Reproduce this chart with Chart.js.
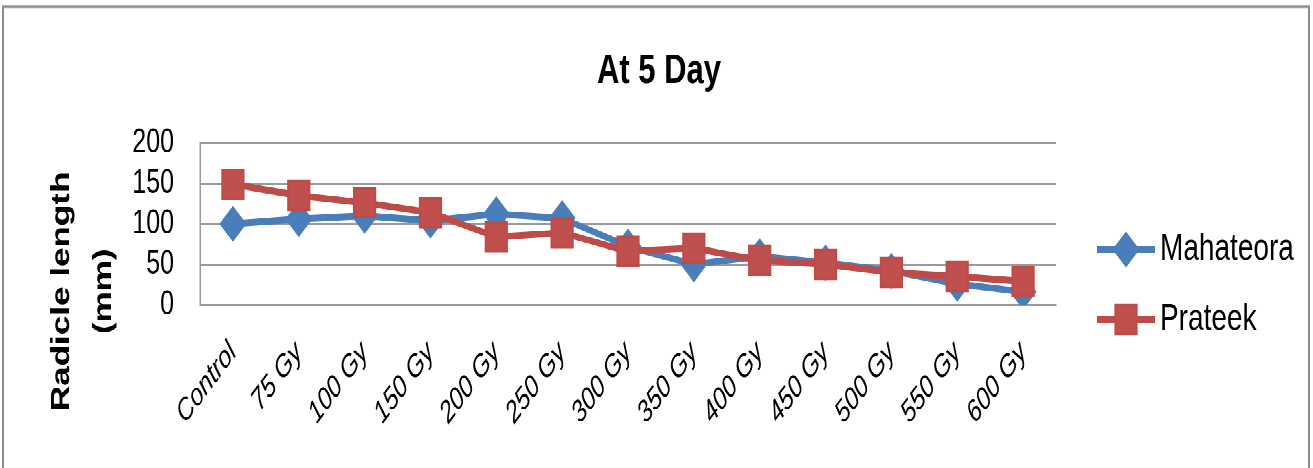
<!DOCTYPE html>
<html>
<head>
<meta charset="utf-8">
<script src="https://cdn.jsdelivr.net/npm/chart.js@4"></script>
<style>
  html, body { margin: 0; padding: 0; background: #fff; overflow: hidden; }
  #stage {
    position: absolute; left: 0; top: 0;
    width: 1313px; height: 347px;
    transform: scaleY(1.3487); transform-origin: 0 0;
  }
  #frame {
    position: absolute; left: 2px; top: 4px;
    width: 1304px; height: 400px;
    border: 2px solid #8c8c8c;
  }
  #myChart { position: absolute; left: 0; top: 0; }
</style>
</head>
<body>
<div id="stage">
  <div id="frame"></div>
  <canvas id="myChart" width="1313" height="347" style="width:1313px;height:347px"></canvas>
</div>
<script>
const categories = ['Control', '75 Gy', '100 Gy', '150 Gy', '200 Gy', '250 Gy', '300 Gy',
  '350 Gy', '400 Gy', '450 Gy', '500 Gy', '550 Gy', '600 Gy'];
const mahateora = [100, 106, 110, 104, 112, 107, 72, 50, 60, 52, 42, 26, 16];
const prateek = [149, 135, 126, 114, 84, 89, 66, 70, 55, 50, 40, 35, 29];
const yTicks = [0, 50, 100, 150, 200];

const chartTitle = 'At 5 Day';
const yTitle = ['Radicle length', '(mm)'];

const NARROW = "'Liberation Sans Narrow', 'Liberation Sans', sans-serif";
const BLUE = '#4a7ebb';
const RED = '#be4b48';


// title, y axis title and legend drawn at the spots they sit in the picture
const extras = {
    id: 'extras',
    afterDraw(chart) {
        const ctx = chart.ctx;
        ctx.save();
        ctx.fillStyle = '#000';
        ctx.textAlign = 'center';
        ctx.textBaseline = 'middle';
        ctx.font = 'bold 31px ' + NARROW;
        ctx.fillText(chartTitle, 659, 53);

        ctx.save();
        ctx.translate(62, 216);
        ctx.rotate(-Math.PI / 2);
        ctx.font = 'bold 26px "Liberation Sans", Arial, sans-serif';
        ctx.fillText(yTitle[0], 0, 0);
        ctx.fillText(yTitle[1], 0, 42);
        ctx.restore();

        const rows = [185, 237];
        chart.data.datasets.forEach(function (ds, i) {
            const y = rows[i];
            ctx.strokeStyle = ds.borderColor;
            ctx.lineWidth = 5;
            ctx.beginPath();
            ctx.moveTo(1097, y);
            ctx.lineTo(1155, y);
            ctx.stroke();
            ctx.fillStyle = ds.pointBackgroundColor;
            ctx.strokeStyle = ds.pointBorderColor;
            ctx.lineWidth = 2;
            Chart.helpers.drawPoint(ctx, {
                pointStyle: ds.pointStyle,
                radius: ds.pointRadius,
                borderWidth: 2,
                rotation: 0
            }, 1126, y);
            ctx.fillStyle = '#000';
            ctx.textAlign = 'left';
            ctx.font = '28px ' + NARROW;
            ctx.fillText(ds.label, 1160, y);
        });
        ctx.restore();
    }
};


function renderChart() {
    const ctx = document.getElementById('myChart');

    new Chart(ctx, {
        type: 'line',
        data: {
            labels: categories,
            datasets: [{
                label: 'Mahateora',
                data: mahateora,
                order: 2,
                borderColor: BLUE,
                backgroundColor: BLUE,
                borderWidth: 5,
                pointStyle: 'rectRot',
                pointRadius: 12,
                pointBorderWidth: 2,
                pointBorderColor: BLUE,
                pointBackgroundColor: BLUE
            }, {
                label: 'Prateek',
                data: prateek,
                order: 1,
                borderColor: RED,
                backgroundColor: '#c0504d',
                borderWidth: 5,
                pointStyle: 'rect',
                pointRadius: 15,
                pointBorderWidth: 2,
                pointBorderColor: RED,
                pointBackgroundColor: '#c0504d'
            }]
        },
        options: {
            responsive: false,
            animation: false,
            devicePixelRatio: 2,
            layout: {
                padding: { top: 106, right: 257, left: 0, bottom: 0 }
            },
            plugins: {
                legend: { display: false },
                title: { display: false },
                tooltip: { enabled: false }
            },
            scales: {
                x: {
                    offset: true,
                    afterFit: function (scale) { scale.height = 121; },
                    grid: { display: false, offset: true },
                    border: { display: true, color: '#9a9a9a', width: 1.5 },
                    ticks: {
                        color: '#000',
                        autoSkip: false,
                        maxRotation: 45,
                        minRotation: 45,
                        padding: 14,
                        font: { family: NARROW, size: 23, style: 'italic' }
                    }
                },
                y: {
                    min: 0,
                    max: 200,
                    afterFit: function (scale) { scale.width = 200; },
                    afterBuildTicks: function (scale) {
                        scale.ticks = yTicks.map(v => ({ value: v }));
                    },
                    grid: { color: '#9a9a9a', lineWidth: 1.5, drawTicks: false },
                    border: { display: true, color: '#9a9a9a', width: 1.5 },
                    ticks: {
                        color: '#000',
                        autoSkip: false,
                        padding: 26,
                        font: { family: NARROW, size: 25 }
                    }
                }
            }
        },
        plugins: [extras]
    });
}

renderChart();
</script>
</body>
</html>
